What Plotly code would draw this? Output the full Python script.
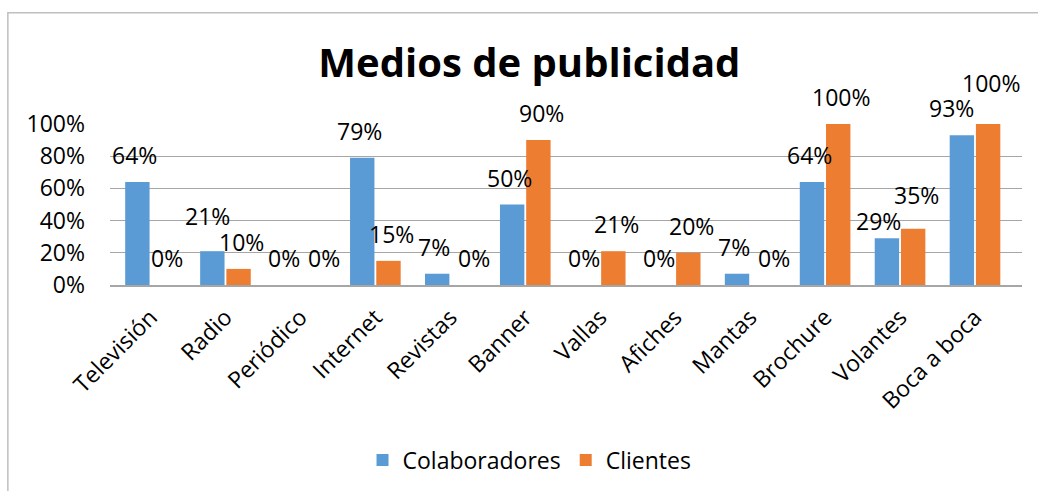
import plotly.graph_objects as go

categorias = ["Televisión", "Radio", "Periódico", "Internet", "Revistas", "Banner",
              "Vallas", "Afiches", "Mantas", "Brochure", "Volantes", "Boca a boca"]
colaboradores = [0.64, 0.21, 0.00, 0.79, 0.07, 0.50, 0.00, 0.00, 0.07, 0.64, 0.29, 0.93]
clientes = [0.00, 0.10, 0.00, 0.15, 0.00, 0.90, 0.21, 0.20, 0.00, 1.00, 0.35, 1.00]

AZUL = "#5B9BD5"
NARANJA = "#ED7D31"
FONT = "Open Sans"

# ajustes manuales de etiquetas (como en el original de Excel)
nudge = {
    ("Colaboradores", "Radio"): (-2, 8),
    ("Colaboradores", "Volantes"): (-6, -10),
    ("Colaboradores", "Boca a boca"): (-8, 0),
    ("Clientes", "Periódico"): (8, 0),
    ("Clientes", "Revistas"): (8, 0),
    ("Clientes", "Mantas"): (8, 0),
    ("Clientes", "Volantes"): (0, 7),
    ("Clientes", "Boca a boca"): (0, 14),
}

fig = go.Figure()
fig.add_trace(go.Bar(x=categorias, y=colaboradores, name="Colaboradores",
                     marker=dict(color=AZUL, line=dict(width=0))))
fig.add_trace(go.Bar(x=categorias, y=clientes, name="Clientes",
                     marker=dict(color=NARANJA, line=dict(width=0))))

for serie, vals, dx in [("Colaboradores", colaboradores, -16), ("Clientes", clientes, 16)]:
    for cat, v in zip(categorias, vals):
        ndx, ndy = nudge.get((serie, cat), (0, 0))
        fig.add_annotation(x=cat, y=v, text=f"{round(v * 100)}%", showarrow=False,
                           xshift=dx + ndx, yshift=27 + ndy, yanchor="middle",
                           font=dict(family=FONT, size=23, color="#000000"))

fig.add_shape(type="rect", xref="paper", yref="paper",
              x0=-0.112, x1=1.1, y0=-1.4, y1=1.691,
              line=dict(color="#BFBFBF", width=1.5), layer="below")

fig.update_layout(
    width=1038, height=491,
    margin=dict(l=110, r=16, t=124, b=205),
    paper_bgcolor="white", plot_bgcolor="white",
    barmode="group", bargap=0.30, bargroupgap=0.07,
    font=dict(family=FONT, size=24, color="#000000"),
    title=dict(text="<b>Medios de publicidad</b>", x=0.51, xanchor="center",
               y=0.872, yanchor="middle", font=dict(family=FONT, size=40, color="#000000")),
    xaxis=dict(tickangle=-45, showline=True, linecolor="#A6A6A6", linewidth=1.5,
               ticks="", showgrid=False, ticklabelstandoff=8,
               tickfont=dict(family=FONT, size=23)),
    yaxis=dict(range=[0, 1], dtick=0.2, tickformat=".0%", showgrid=True,
               gridcolor="#A6A6A6", gridwidth=1.2, zeroline=False, ticks="",
               ticklabelstandoff=24, tickfont=dict(family=FONT, size=23)),
    legend=dict(orientation="h", x=0.46, xanchor="center", y=-1.074, yanchor="middle",
                font=dict(family=FONT, size=23), itemwidth=30),
    showlegend=True,
)

fig.write_html("out.html", config={"displayModeBar": False},
               post_script="document.body.style.margin='0px';")
